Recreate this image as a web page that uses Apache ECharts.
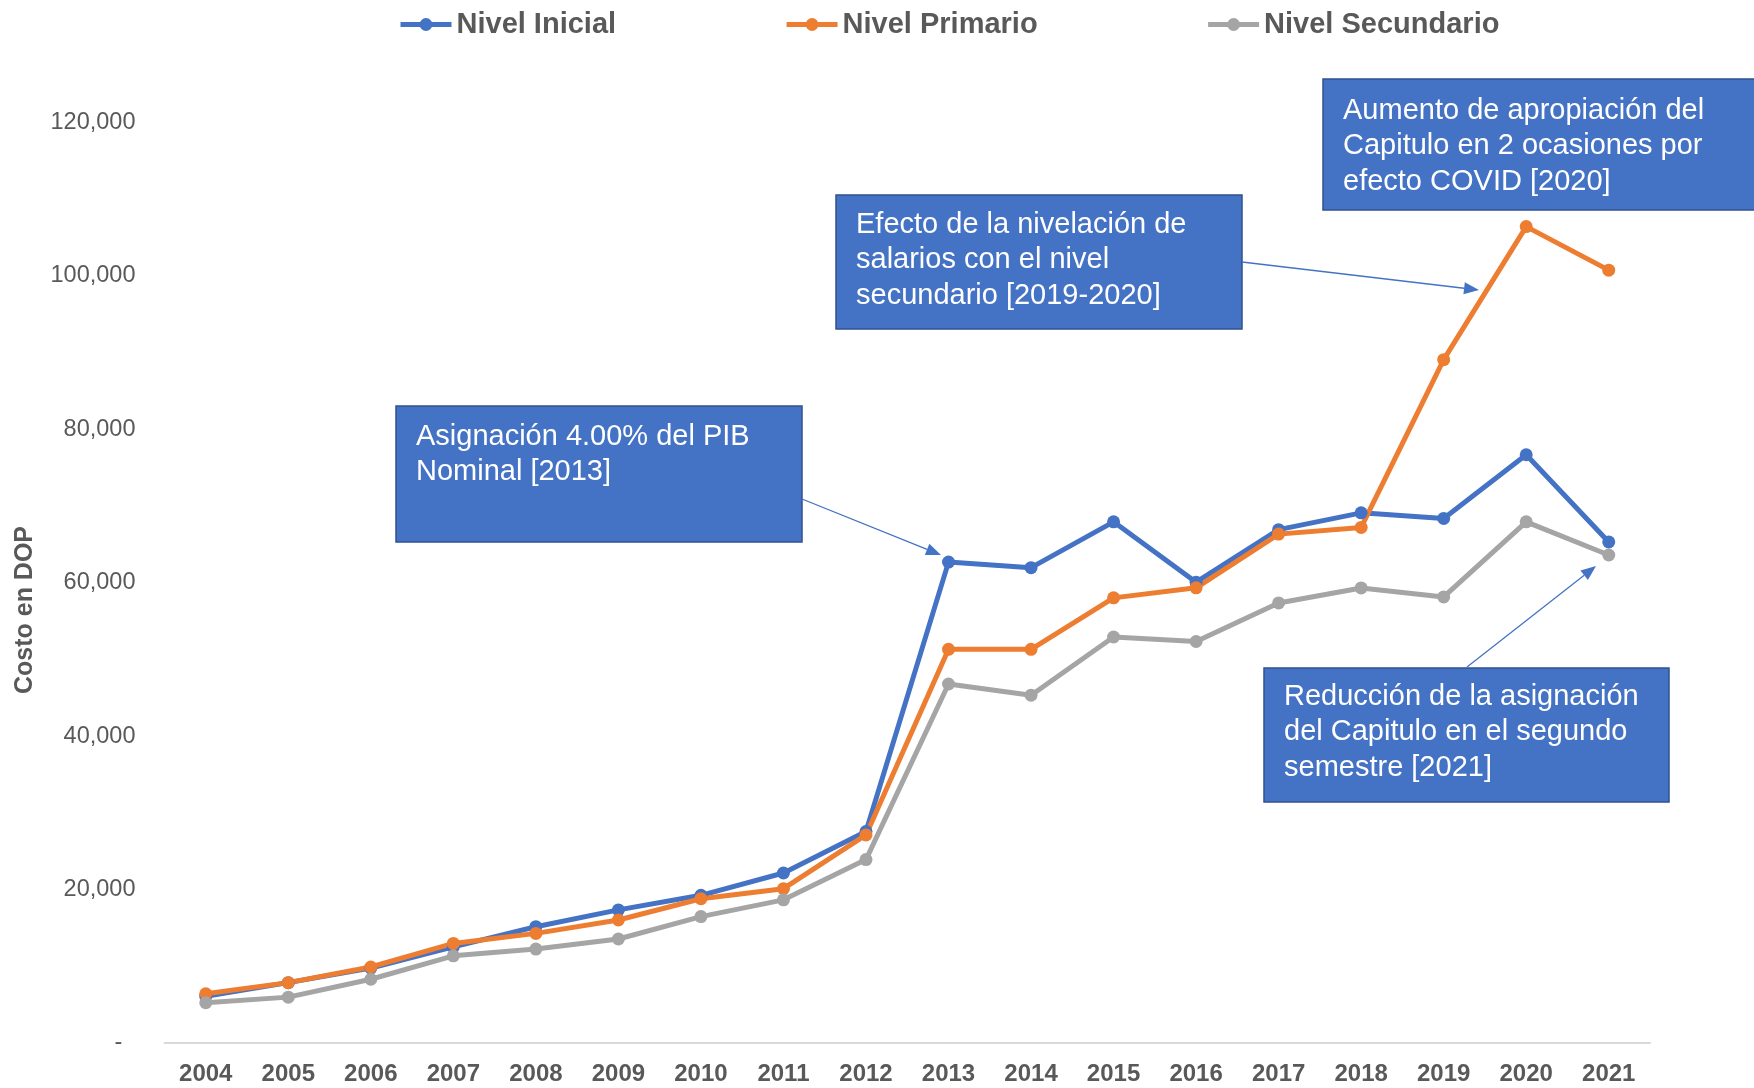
<!DOCTYPE html>
<html>
<head>
<meta charset="utf-8">
<script src="https://cdn.jsdelivr.net/npm/echarts@6/dist/echarts.min.js"></script>
<style>
  html, body { margin: 0; padding: 0; background: #fff; }
  #chart { width: 1754px; height: 1088px; }
</style>
</head>
<body>
<div id="chart"></div>
<script>
const years = ['2004', '2005', '2006', '2007', '2008', '2009', '2010', '2011', '2012',
  '2013', '2014', '2015', '2016', '2017', '2018', '2019', '2020', '2021'];

const nivelInicial = [6100, 7870, 9770, 12540, 15160, 17350, 19250, 22160, 27560,
  62690, 61970, 67940, 60070, 66920, 69110, 68380, 76690, 65320];
const nivelPrimario = [6420, 7870, 9910, 12980, 14290, 16040, 18810, 20120, 27120,
  51320, 51320, 58030, 59340, 66340, 67210, 89080, 106430, 100750];
const nivelSecundario = [5250, 5980, 8310, 11370, 12250, 13560, 16480, 18660, 23910,
  46800, 45340, 52930, 52340, 57370, 59320, 58150, 67940, 63620];

const seriesNames = ['Nivel Inicial', 'Nivel Primario', 'Nivel Secundario'];
const colors = ['#4472C4', '#ED7D31', '#A5A5A5'];

// callouts: box [x, y, w, h], text offset [dx, dy], arrow [tailX, tailY, tipX, tipY]
const notes = [
  { text: 'Asignación 4.00% del PIB\nNominal [2013]', box: [396, 406, 406, 136], pad: [20, 13], arrow: [802, 499, 941, 555] },
  { text: 'Efecto de la nivelación de\nsalarios con el nivel\nsecundario [2019-2020]', box: [836, 195, 406, 134], pad: [20, 12], arrow: [1242, 262, 1479, 290] },
  { text: 'Aumento de apropiación del\nCapitulo en 2 ocasiones por\nefecto COVID [2020]', box: [1323, 79, 440, 131], pad: [20, 14], arrow: null },
  { text: 'Reducción de la asignación\ndel Capitulo en el segundo\nsemestre [2021]', box: [1264, 668, 405, 134], pad: [20, 11], arrow: [1467, 667, 1596, 566] }
];

const font = "'Liberation Sans', Arial, sans-serif";
const chart = echarts.init(document.getElementById('chart'));

const graphics = [];
notes.forEach(n => {
  const [x, y, w, h] = n.box;
  graphics.push({
    type: 'rect', shape: { x: x, y: y, width: w, height: h }, z: 10,
    style: { fill: '#4472C4', stroke: '#2F528F', lineWidth: 1.5 }
  });
  graphics.push({
    type: 'text', x: x + n.pad[0], y: y + n.pad[1], z: 11,
    style: { text: n.text, fill: '#fff', font: '29px ' + font, lineHeight: 35.5, verticalAlign: 'top' }
  });
  if (n.arrow) {
    const [x1, y1, x2, y2] = n.arrow;
    const ang = Math.atan2(y2 - y1, x2 - x1);
    const len = 15, half = 6;
    const bx = x2 - len * Math.cos(ang), by = y2 - len * Math.sin(ang);
    graphics.push({
      type: 'line', z: 10, shape: { x1: x1, y1: y1, x2: bx, y2: by },
      style: { stroke: '#4472C4', lineWidth: 1.3 }
    });
    graphics.push({
      type: 'polygon', z: 10,
      shape: { points: [[x2, y2],
        [bx + half * Math.sin(ang), by - half * Math.cos(ang)],
        [bx - half * Math.sin(ang), by + half * Math.cos(ang)]] },
      style: { fill: '#4472C4' }
    });
  }
});
graphics.push({
  type: 'text', x: 25, y: 610, rotation: Math.PI / 2,
  style: { text: 'Costo en DOP', fill: '#595959', font: 'bold 25px ' + font, align: 'center', verticalAlign: 'middle' }
});

const option = {
  animation: false,
  color: colors,
  textStyle: { fontFamily: font },
  legend: {
    left: 393, top: 5,
    itemWidth: 51, itemHeight: 16, itemGap: 168,
    lineStyle: { width: 5 },
    textStyle: { fontSize: 29, fontWeight: 'bold', color: '#595959' },
    data: seriesNames
  },
  grid: { left: 164.5, right: 104, top: 122.5, bottom: 45 },
  xAxis: {
    type: 'category',
    data: years,
    axisLine: { lineStyle: { color: '#D9D9D9', width: 2 } },
    axisTick: { show: false },
    axisLabel: { fontSize: 24, fontWeight: 'bold', color: '#595959', margin: 19 }
  },
  yAxis: {
    type: 'value',
    min: 0, max: 120000, interval: 20000,
    axisLine: { show: false },
    axisTick: { show: false },
    splitLine: { show: false },
    axisLabel: {
      fontSize: 23.5, color: '#595959', margin: 29,
      formatter: v => v === 0 ? '-  ' : v.toLocaleString('en-US')
    }
  },
  series: [nivelInicial, nivelPrimario, nivelSecundario].map((d, i) => ({
    name: seriesNames[i],
    type: 'line',
    data: d,
    symbol: 'circle',
    symbolSize: 13,
    lineStyle: { width: 5, color: colors[i] },
    itemStyle: { color: colors[i] }
  })),
  graphic: graphics
};

chart.setOption(option);
</script>
</body>
</html>
